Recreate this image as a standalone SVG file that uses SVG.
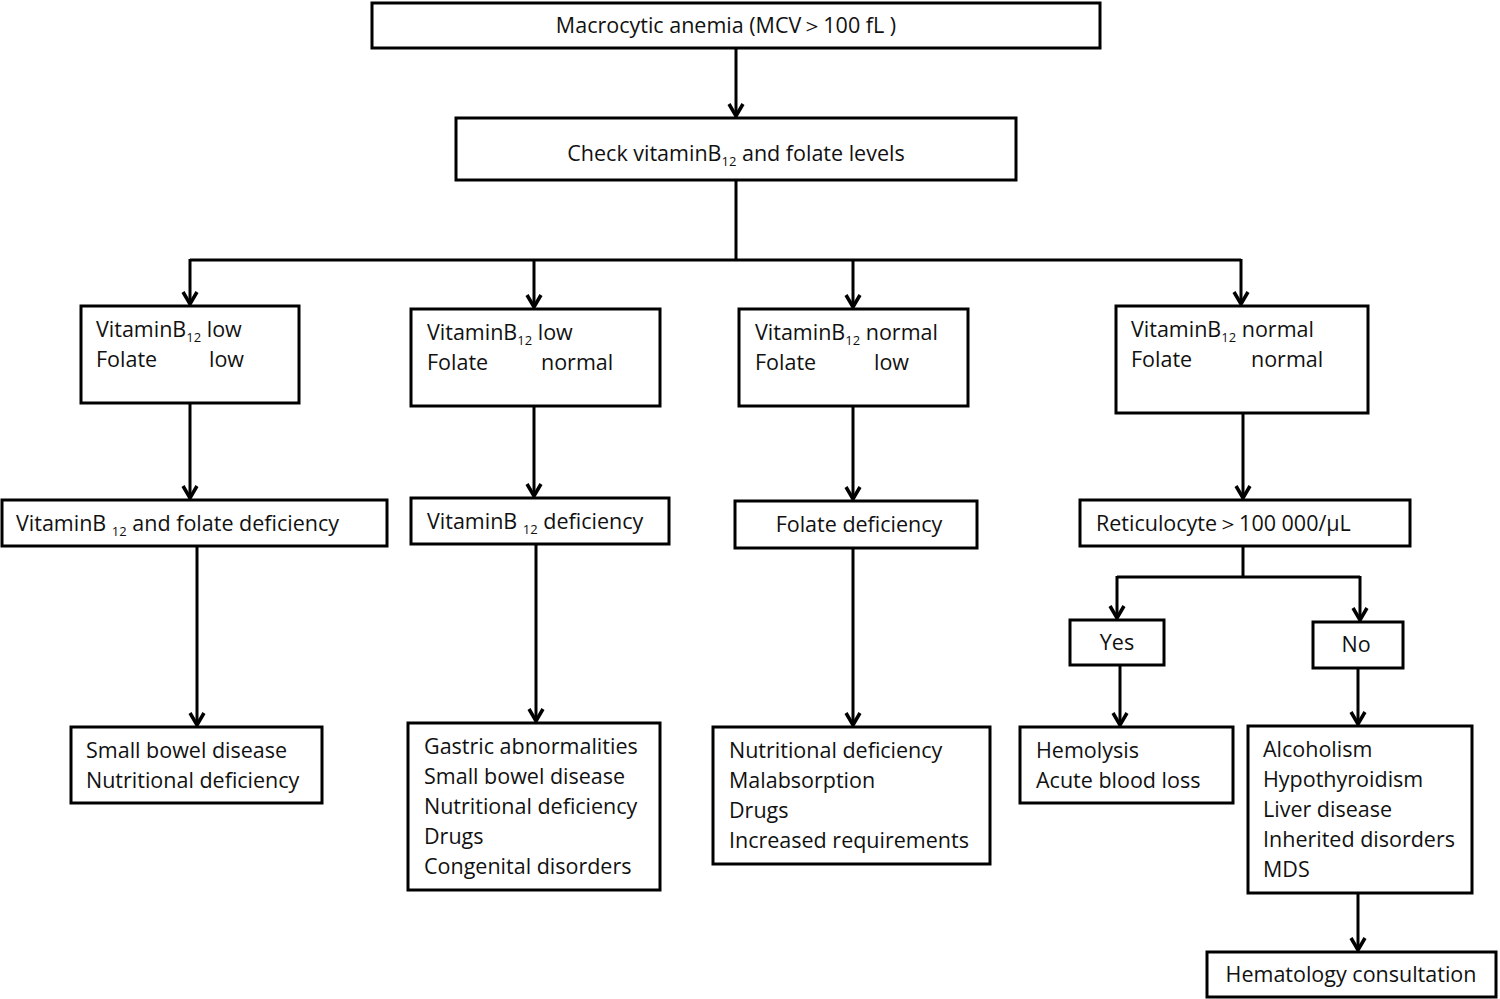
<svg xmlns="http://www.w3.org/2000/svg" width="1500" height="999" viewBox="0 0 1500 999">
<style>
rect{fill:#fff;stroke:#000;stroke-width:3}
text{font-family:"Open Sans","Liberation Sans",sans-serif;font-size:21.5px;fill:#111}
.c{text-anchor:middle}
line,polyline{stroke:#000;stroke-width:3;fill:none}
</style>
<defs><marker id="a" viewBox="0 0 16 16" refX="14" refY="8" markerWidth="16" markerHeight="16" orient="auto" markerUnits="userSpaceOnUse" style="overflow:visible"><path d="M2,1 L14,8 L2,15" fill="none" stroke="#000" stroke-width="3.5"/></marker></defs>
<rect width="1500" height="999" style="stroke:none"/>
<g id="connectors">
<line x1="736" y1="48" x2="736" y2="116" marker-end="url(#a)"/>
<line x1="736" y1="180" x2="736" y2="260"/>
<line x1="190" y1="260" x2="1241" y2="260"/>
<line x1="190" y1="259" x2="190" y2="304" marker-end="url(#a)"/>
<line x1="534" y1="259" x2="534" y2="307" marker-end="url(#a)"/>
<line x1="853" y1="259" x2="853" y2="307" marker-end="url(#a)"/>
<line x1="1241" y1="259" x2="1241" y2="304" marker-end="url(#a)"/>
<line x1="190" y1="403" x2="190" y2="498" marker-end="url(#a)"/>
<line x1="534" y1="406" x2="534" y2="496" marker-end="url(#a)"/>
<line x1="853" y1="406" x2="853" y2="499" marker-end="url(#a)"/>
<line x1="1243" y1="413" x2="1243" y2="498" marker-end="url(#a)"/>
<line x1="197" y1="546" x2="197" y2="725" marker-end="url(#a)"/>
<line x1="536" y1="544" x2="536" y2="721" marker-end="url(#a)"/>
<line x1="853" y1="548" x2="853" y2="725" marker-end="url(#a)"/>
<line x1="1243" y1="546" x2="1243" y2="577"/>
<line x1="1117" y1="577" x2="1360" y2="577"/>
<line x1="1117" y1="576" x2="1117" y2="618" marker-end="url(#a)"/>
<line x1="1360" y1="576" x2="1360" y2="620" marker-end="url(#a)"/>
<line x1="1120" y1="665" x2="1120" y2="725" marker-end="url(#a)"/>
<line x1="1358" y1="668" x2="1358" y2="724" marker-end="url(#a)"/>
<line x1="1358" y1="893" x2="1358" y2="950" marker-end="url(#a)"/>
</g>
<g id="n1"><rect x="372" y="3" width="728" height="45"/><text class="c" x="726" y="33">Macrocytic anemia (MCV＞100 fL )</text></g>
<g id="n2"><rect x="456" y="118" width="560" height="62"/><text class="c" x="736" y="161">Check vitaminB<tspan font-size="13" dy="5">12</tspan><tspan dy="-5"> and folate levels</tspan></text></g>
<g id="a1"><rect x="81" y="306" width="218" height="97"/><text x="96" y="337">VitaminB<tspan font-size="13" dy="5">12</tspan><tspan dy="-5"> low</tspan></text><text x="96" y="367">Folate</text><text x="209" y="367">low</text></g>
<g id="b1"><rect x="411" y="309" width="249" height="97"/><text x="427" y="340">VitaminB<tspan font-size="13" dy="5">12</tspan><tspan dy="-5"> low</tspan></text><text x="427" y="370">Folate</text><text x="541" y="370">normal</text></g>
<g id="c1"><rect x="739" y="309" width="229" height="97"/><text x="755" y="340">VitaminB<tspan font-size="13" dy="5">12</tspan><tspan dy="-5"> normal</tspan></text><text x="755" y="370">Folate</text><text x="874" y="370">low</text></g>
<g id="d1"><rect x="1116" y="306" width="252" height="107"/><text x="1131" y="337">VitaminB<tspan font-size="13" dy="5">12</tspan><tspan dy="-5">  normal</tspan></text><text x="1131" y="367">Folate</text><text x="1251" y="367">normal</text></g>
<g id="a2"><rect x="2" y="500" width="385" height="46"/><text x="16" y="531">VitaminB <tspan font-size="13" dy="5">12</tspan><tspan dy="-5"> and  folate deficiency</tspan></text></g>
<g id="b2"><rect x="411" y="498" width="258" height="46"/><text x="427" y="529">VitaminB <tspan font-size="13" dy="5">12</tspan><tspan dy="-5"> deficiency</tspan></text></g>
<g id="c2"><rect x="735" y="501" width="242" height="47"/><text class="c" x="859" y="532">Folate deficiency</text></g>
<g id="d2"><rect x="1080" y="500" width="330" height="46"/><text x="1096" y="531">Reticulocyte＞100 000/μL</text></g>
<g id="a3"><rect x="71" y="727" width="251" height="76"/><text x="86" y="758">Small bowel disease</text><text x="86" y="788">Nutritional deficiency</text></g>
<g id="b3"><rect x="408" y="723" width="252" height="167"/><text x="424" y="754">Gastric abnormalities</text><text x="424" y="784">Small bowel disease</text><text x="424" y="814">Nutritional deficiency</text><text x="424" y="844">Drugs</text><text x="424" y="874">Congenital disorders</text></g>
<g id="c3"><rect x="713" y="727" width="277" height="137"/><text x="729" y="758">Nutritional deficiency</text><text x="729" y="788">Malabsorption</text><text x="729" y="818">Drugs</text><text x="729" y="848">Increased requirements</text></g>
<g id="yes"><rect x="1070" y="620" width="94" height="45"/><text class="c" x="1117" y="650">Yes</text></g>
<g id="no"><rect x="1313" y="622" width="90" height="46"/><text class="c" x="1356" y="652">No</text></g>
<g id="hem"><rect x="1020" y="727" width="213" height="76"/><text x="1036" y="758">Hemolysis</text><text x="1036" y="788">Acute blood loss</text></g>
<g id="alc"><rect x="1248" y="726" width="224" height="167"/><text x="1263" y="757">Alcoholism</text><text x="1263" y="787">Hypothyroidism</text><text x="1263" y="817">Liver disease</text><text x="1263" y="847">Inherited disorders</text><text x="1263" y="877">MDS</text></g>
<g id="cons"><rect x="1207" y="952" width="289" height="45"/><text class="c" x="1351" y="982">Hematology consultation</text></g>
</svg>
